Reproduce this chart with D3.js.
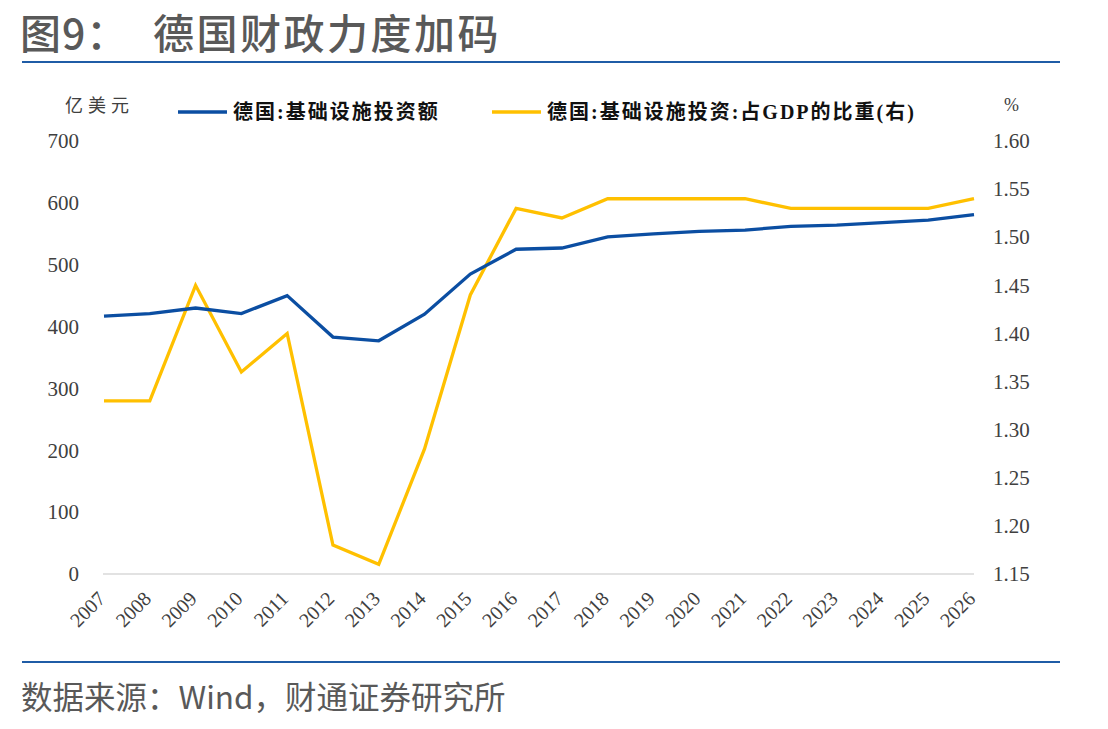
<!DOCTYPE html>
<html>
<head>
<meta charset="utf-8">
<script src="https://cdn.jsdelivr.net/npm/d3@7"></script>
<style>
  body { margin: 0; background: #fff; }
  svg { display: block; }
</style>
</head>
<body>
<script>
// chart data
const years = ['2007', '2008', '2009', '2010', '2011', '2012', '2013', '2014', '2015', '2016',
  '2017', '2018', '2019', '2020', '2021', '2022', '2023', '2024', '2025', '2026'];
const investment = [417, 421, 430, 421, 450, 383, 377, 420, 485, 525,
  527, 545, 550, 554, 556, 562, 564, 568, 572, 581];
const shareOfGdp = [1.33, 1.33, 1.45, 1.36, 1.40, 1.18, 1.16, 1.28, 1.44, 1.53,
  1.52, 1.54, 1.54, 1.54, 1.54, 1.53, 1.53, 1.53, 1.53, 1.54];
const leftTicks = [0, 100, 200, 300, 400, 500, 600, 700];
const rightTicks = [1.15, 1.20, 1.25, 1.30, 1.35, 1.40, 1.45, 1.50, 1.55, 1.60];

const W = 1108, H = 729;
const plot = { left: 104, right: 974, top: 141, bottom: 574 };
const serif = '"Liberation Serif", "Times New Roman", "Noto Sans CJK SC", serif';
const sans = '"Noto Sans CJK SC", "Noto Sans", sans-serif';

const svg = d3.select('body').append('svg')
  .attr('width', W)
  .attr('height', H);

// title + rules
svg.append('text')
  .attr('x', 20).attr('y', 49)
  .attr('font-family', sans)
  .attr('font-size', 41)
  .attr('font-weight', 500)
  .attr('letter-spacing', 1)
  .attr('fill', '#595959')
  .text('图9：');
svg.append('text')
  .attr('x', 153).attr('y', 49)
  .attr('font-family', sans)
  .attr('font-size', 41)
  .attr('font-weight', 500)
  .attr('letter-spacing', 2.5)
  .attr('fill', '#595959')
  .text('德国财政力度加码');

svg.append('line')
  .attr('x1', 22).attr('x2', 1060).attr('y1', 62).attr('y2', 62)
  .attr('stroke', '#1f5ca6').attr('stroke-width', 2);
svg.append('line')
  .attr('x1', 22).attr('x2', 1060).attr('y1', 662).attr('y2', 662)
  .attr('stroke', '#1f5ca6').attr('stroke-width', 2);

svg.append('text')
  .attr('x', 21).attr('y', 709)
  .attr('font-family', sans)
  .attr('font-size', 31.5)
  .attr('fill', '#595959')
  .text('数据来源：Wind，财通证券研究所');

// scales
const x = d3.scalePoint().domain(years).range([plot.left, plot.right]);
const yL = d3.scaleLinear().domain([0, 700]).range([plot.bottom, plot.top]);
const yR = d3.scaleLinear().domain([1.15, 1.60]).range([plot.bottom, plot.top]);

// baseline
svg.append('line')
  .attr('x1', plot.left - 1).attr('x2', plot.right)
  .attr('y1', plot.bottom).attr('y2', plot.bottom)
  .attr('stroke', '#d9d9d9').attr('stroke-width', 1.5);

// left axis
const gL = svg.append('g')
  .attr('transform', `translate(${plot.left - 25},0)`)
  .call(d3.axisLeft(yL).tickValues(leftTicks).tickSize(0).tickPadding(0));
gL.select('.domain').remove();
gL.selectAll('text')
  .attr('font-family', serif).attr('font-size', 21).attr('fill', '#404040');

// right axis
const gR = svg.append('g')
  .attr('transform', `translate(${plot.right + 19},0)`)
  .call(d3.axisRight(yR).tickValues(rightTicks).tickSize(0).tickPadding(0).tickFormat(d3.format('.2f')));
gR.select('.domain').remove();
gR.selectAll('text')
  .attr('font-family', serif).attr('font-size', 21).attr('fill', '#404040');

// x axis labels, rotated
const gX = svg.append('g')
  .attr('transform', `translate(0,${plot.bottom})`)
  .call(d3.axisBottom(x).tickSize(0).tickPadding(0));
gX.select('.domain').remove();
gX.selectAll('text')
  .attr('font-family', serif).attr('font-size', 20).attr('fill', '#404040')
  .attr('text-anchor', 'end')
  .attr('y', 0)
  .attr('dy', 0)
  .attr('transform', 'translate(2,26) rotate(-45)');

// unit labels
svg.append('text')
  .attr('x', 65).attr('y', 112)
  .attr('font-family', serif).attr('font-size', 18).attr('fill', '#404040')
  .attr('letter-spacing', 5)
  .text('亿美元');
svg.append('text')
  .attr('x', 1004).attr('y', 111)
  .attr('font-family', serif).attr('font-size', 18).attr('fill', '#404040')
  .text('%');

// lines
const lineL = d3.line().x((d, i) => x(years[i])).y(d => yL(d));
const lineR = d3.line().x((d, i) => x(years[i])).y(d => yR(d));

svg.append('path')
  .datum(shareOfGdp)
  .attr('d', lineR)
  .attr('fill', 'none')
  .attr('stroke', '#ffc000')
  .attr('stroke-width', 3.3);

svg.append('path')
  .datum(investment)
  .attr('d', lineL)
  .attr('fill', 'none')
  .attr('stroke', '#0b4ea2')
  .attr('stroke-width', 3.3);

// legend
const legend = [
  { label: '德国:基础设施投资额', color: '#0b4ea2', x: 178 },
  { label: '德国:基础设施投资:占GDP的比重(右)', color: '#ffc000', x: 492 }
];
const lg = svg.append('g').selectAll('g').data(legend).join('g')
  .attr('transform', d => `translate(${d.x},112)`);
lg.append('line')
  .attr('x1', 0).attr('x2', 49)
  .attr('stroke', d => d.color).attr('stroke-width', 3.3);
lg.append('text')
  .attr('x', 55).attr('y', 7)
  .attr('font-family', serif).attr('font-size', 20).attr('font-weight', 'bold')
  .attr('letter-spacing', 2)
  .attr('fill', '#111')
  .text(d => d.label);
</script>
</body>
</html>
